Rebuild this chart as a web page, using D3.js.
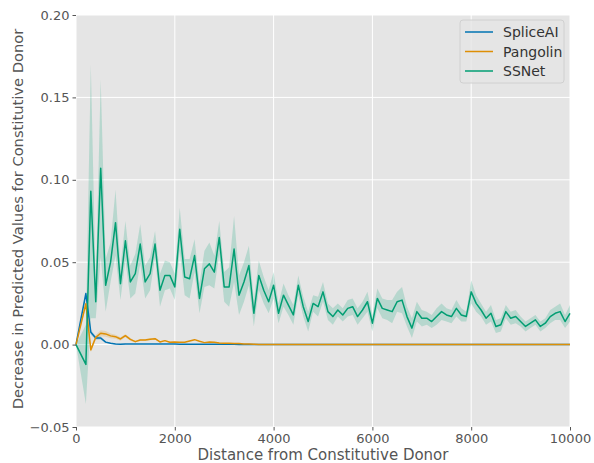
<!DOCTYPE html>
<html>
<head>
<meta charset="utf-8">
<script src="https://cdn.jsdelivr.net/npm/d3@7"></script>
<style>
  body { margin: 0; background: #fff; }
  svg { display: block; font-family: "DejaVu Sans", sans-serif; }
</style>
</head>
<body>
<div id="chart"></div>
<script>
// distance from constitutive donor (x values)
var distance = [0, 200, 300, 400, 500, 600, 700, 800, 900, 1000,
  1100, 1200, 1300, 1400, 1500, 1600, 1700, 1800, 1900, 2000,
  2100, 2200, 2300, 2400, 2500, 2600, 2700, 2800, 2900, 3000,
  3100, 3200, 3300, 3400, 3500, 3600, 3700, 3800, 3900, 4000,
  4100, 4200, 4300, 4400, 4500, 4600, 4700, 4800, 4900, 5000,
  5100, 5200, 5300, 5400, 5500, 5600, 5700, 5800, 5900, 6000,
  6100, 6200, 6300, 6400, 6500, 6600, 6700, 6800, 6900, 7000,
  7100, 7200, 7300, 7400, 7500, 7600, 7700, 7800, 7900, 8000,
  8100, 8200, 8300, 8400, 8500, 8600, 8700, 8800, 8900, 9000,
  9100, 9200, 9300, 9400, 9500, 9600, 9700, 9800, 9900, 10000];

var ssnet = [0, -0.012, 0.093, 0.026, 0.107, 0.036, 0.050, 0.074, 0.037, 0.063,
  0.038, 0.043, 0.061, 0.038, 0.043, 0.061, 0.033, 0.042, 0.042, 0.035,
  0.070, 0.041, 0.040, 0.054, 0.028, 0.046, 0.049, 0.044, 0.065, 0.035,
  0.035, 0.058, 0.030, 0.038, 0.048, 0.019, 0.042, 0.033, 0.026, 0.036,
  0.019, 0.030, 0.024, 0.018, 0.036, 0.023, 0.014, 0.025, 0.023, 0.032,
  0.020, 0.017, 0.021, 0.018, 0.022, 0.023, 0.017, 0.021, 0.026, 0.013,
  0.028, 0.022, 0.021, 0.020, 0.026, 0.027, 0.017, 0.010, 0.020, 0.016,
  0.016, 0.014, 0.017, 0.020, 0.018, 0.017, 0.022, 0.018, 0.017, 0.032,
  0.025, 0.021, 0.016, 0.019, 0.011, 0.012, 0.020, 0.016, 0.017, 0.014,
  0.011, 0.013, 0.015, 0.011, 0.013, 0.017, 0.019, 0.020, 0.014, 0.019];

// half width of the shaded band
var ssnetErr = [0, 0.024, 0.077, 0.010, 0.054, 0.016, 0.012, 0.020, 0.010, 0.012,
  0.010, 0.012, 0.012, 0.010, 0.010, 0.008, 0.010, 0.009, 0.008, 0.008,
  0.013, 0.011, 0.012, 0.010, 0.009, 0.011, 0.013, 0.010, 0.010, 0.009,
  0.012, 0.020, 0.012, 0.012, 0.012, 0.008, 0.009, 0.008, 0.007, 0.008,
  0.006, 0.007, 0.006, 0.006, 0.006, 0.006, 0.006, 0.005, 0.006, 0.006,
  0.005, 0.005, 0.004, 0.004, 0.005, 0.005, 0.005, 0.005, 0.006, 0.005,
  0.006, 0.006, 0.006, 0.007, 0.006, 0.008, 0.006, 0.006, 0.006, 0.005,
  0.004, 0.004, 0.005, 0.005, 0.004, 0.004, 0.005, 0.004, 0.003, 0.007,
  0.005, 0.004, 0.004, 0.005, 0.004, 0.004, 0.004, 0.004, 0.004, 0.003,
  0.003, 0.003, 0.003, 0.003, 0.003, 0.004, 0.004, 0.005, 0.004, 0.005];

var spliceai = [0, 0.031, 0.0075, 0.004, 0.004, 0.0015, 0.0008, 0.0004, 0.0002, 0.0004,
  0.0003, 0.0003, 0.0003, 0.0003, 0.0003, 0.0003, 0.0003, 0.0003, 0.0003, 0.0003,
  0.0002, 0.0002, 0.0002, 0.0002, 0.0002, 0.0002, 0.0002, 0.0002, 0.0002, 0.0002,
  0.0002, 0.0002, 0.0001, 0, 0, 0, 0, 0, 0, 0,
  0, 0, 0, 0, 0, 0, 0, 0, 0, 0,
  0, 0, 0, 0, 0, 0, 0, 0, 0, 0,
  0, 0, 0, 0, 0, 0, 0, 0, 0, 0,
  0, 0, 0, 0, 0, 0, 0, 0, 0, 0,
  0, 0, 0, 0, 0, 0, 0, 0, 0, 0,
  0, 0, 0, 0, 0, 0, 0, 0, 0, 0];
var spliceaiErr = [0, 0.001, 0.0015, 0.001, 0.001, 0.0005, 0.0003, 0.0002, 0.0001, 0.0002];

var pangolin = [0, 0.0248, -0.0032, 0.0044, 0.0069, 0.0065, 0.0053, 0.0048, 0.0034, 0.0054,
  0.0032, 0.0018, 0.0028, 0.0028, 0.0032, 0.0036, 0.0016, 0.0024, 0.0014, 0.0016,
  0.0014, 0.0014, 0.0022, 0.0030, 0.0020, 0.0012, 0.0016, 0.0014, 0.0010, 0.0008,
  0.0008, 0.0006, 0.0006, 0.0004, 0.0003, 0.0002, 0.0001, 0, 0, 0,
  0, 0, 0, 0, 0, 0, 0, 0, 0, 0,
  0, 0, 0, 0, 0, 0, 0, 0, 0, 0,
  0, 0, 0, 0, 0, 0, 0, 0, 0, 0,
  0, 0, 0, 0, 0, 0, 0, 0, 0, 0,
  0, 0, 0, 0, 0, 0, 0, 0, 0, 0,
  0, 0, 0, 0, 0, 0, 0, 0, 0, 0];
var pangolinErr = [0, 0.0015, 0.0015, 0.0015, 0.0018, 0.0018, 0.0015, 0.0012, 0.001, 0.001,
  0.0008, 0.0006, 0.0006, 0.0006, 0.0006, 0.0006, 0.0004, 0.0004, 0.0004, 0.0004];

var xTicks = [0, 2000, 4000, 6000, 8000, 10000];
var yTicks = [-0.05, 0, 0.05, 0.10, 0.15, 0.20];

var seriesNames = ["SpliceAI", "Pangolin", "SSNet"];
var seriesColors = ["#0173b2", "#de8f05", "#029e73"];

var W = 594, H = 463;
var margin = {top: 15, right: 24, bottom: 36, left: 76};
var width = W - margin.left - margin.right,
    height = H - margin.top - margin.bottom;

var svg = d3.select("#chart").append("svg")
    .attr("width", W)
    .attr("height", H);

var g = svg.append("g")
    .attr("transform", "translate(" + margin.left + "," + margin.top + ")");

var x = d3.scaleLinear().domain([0, 10000]).range([0, width]);
var y = d3.scaleLinear().domain([-0.05, 0.20]).range([height, 0]);

g.append("rect")
    .attr("width", width)
    .attr("height", height)
    .attr("fill", "#e5e5e5");

// grid
g.selectAll(".gx").data(xTicks).enter().append("line")
    .attr("x1", function (d) { return x(d); })
    .attr("x2", function (d) { return x(d); })
    .attr("y1", 0).attr("y2", height)
    .attr("stroke", "#fff").attr("stroke-width", 1);
g.selectAll(".gy").data(yTicks).enter().append("line")
    .attr("y1", function (d) { return y(d); })
    .attr("y2", function (d) { return y(d); })
    .attr("x1", 0).attr("x2", width)
    .attr("stroke", "#fff").attr("stroke-width", 1);

function rows(vals, errs) {
    var out = [];
    for (var i = 0; i < errs.length; i++) {
        out.push({x: distance[i], v: vals[i], e: errs[i]});
    }
    return out;
}

var band = d3.area()
    .x(function (d) { return x(d.x); })
    .y0(function (d) { return y(d.v - d.e); })
    .y1(function (d) { return y(d.v + d.e); });

var line = d3.line()
    .x(function (d) { return x(d.x); })
    .y(function (d) { return y(d.v); });

var all = [
    {vals: spliceai, errs: spliceaiErr, color: seriesColors[0]},
    {vals: pangolin, errs: pangolinErr, color: seriesColors[1]},
    {vals: ssnet, errs: ssnetErr, color: seriesColors[2]}
];

all.forEach(function (s) {
    g.append("path")
        .datum(rows(s.vals, s.errs))
        .attr("d", band)
        .attr("fill", s.color)
        .attr("fill-opacity", 0.2)
        .attr("stroke", "none");
});

all.forEach(function (s) {
    g.append("path")
        .datum(rows(s.vals, s.vals))
        .attr("d", line)
        .attr("fill", "none")
        .attr("stroke", s.color)
        .attr("stroke-width", 1.5)
        .attr("stroke-linejoin", "round");
});

// axes
var xAxis = g.append("g")
    .attr("transform", "translate(0," + height + ")")
    .call(d3.axisBottom(x).tickValues(xTicks).tickSize(3.5).tickPadding(3).tickFormat(d3.format("d")));
var yAxis = g.append("g")
    .call(d3.axisLeft(y).tickValues(yTicks).tickSize(3.5).tickPadding(3).tickFormat(d3.format(".2f")));

[xAxis, yAxis].forEach(function (a) {
    a.select(".domain").remove();
    a.selectAll(".tick line").attr("stroke", "#555");
    a.selectAll(".tick text")
        .attr("fill", "#555")
        .style("font-size", "13px")
        .style("font-family", "DejaVu Sans");
});

svg.append("text")
    .attr("x", margin.left + width / 2)
    .attr("y", 460)
    .attr("text-anchor", "middle")
    .attr("fill", "#555")
    .style("font-size", "15px")
    .text("Distance from Constitutive Donor");

svg.append("text")
    .attr("transform", "translate(23," + (margin.top + height / 2 - 2) + ") rotate(-90)")
    .attr("text-anchor", "middle")
    .attr("fill", "#555")
    .style("font-size", "14.7px")
    .text("Decrease in Predicted Values for Constitutive Donor");

// legend
var leg = svg.append("g").attr("transform", "translate(460,20)");
leg.append("rect")
    .attr("width", 104).attr("height", 63)
    .attr("rx", 3)
    .attr("fill", "#e5e5e5")
    .attr("fill-opacity", 0.8)
    .attr("stroke", "#d0d0d0");
seriesNames.forEach(function (name, i) {
    var yy = 12 + i * 19.5;
    leg.append("line")
        .attr("x1", 5).attr("x2", 33)
        .attr("y1", yy).attr("y2", yy)
        .attr("stroke", seriesColors[i])
        .attr("stroke-width", 1.5);
    leg.append("text")
        .attr("x", 43).attr("y", yy + 5)
        .attr("fill", "#333")
        .style("font-size", "14px")
        .text(name);
});
</script>
</body>
</html>
